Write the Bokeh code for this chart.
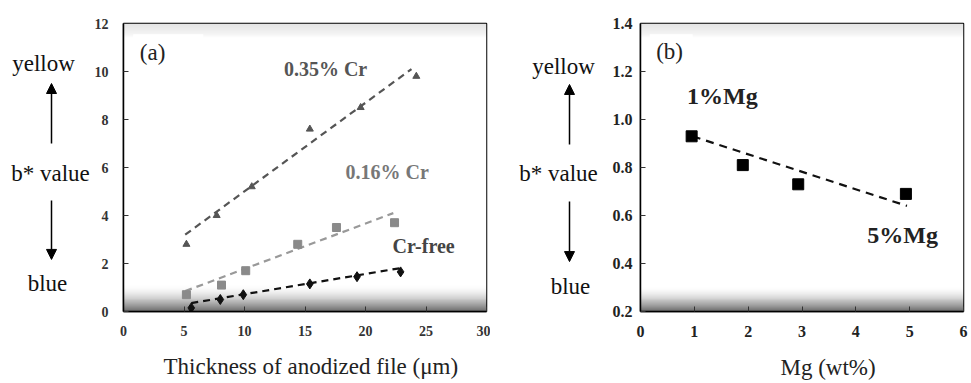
import numpy as np
from bokeh.plotting import figure
from bokeh.layouts import row
from bokeh.models import (Range1d, Label, Arrow, NormalHead, FixedTicker, BoxAnnotation,
                          CustomJSTickFormatter, Title)
from bokeh.embed import file_html
from bokeh.resources import INLINE

# ---------------- Panel (a) data ----------------
xa_ticks = [0, 5, 10, 15, 20, 25, 30]
ya_ticks = [0, 2, 4, 6, 8, 10, 12]
cr35_x = [5.2, 7.7, 10.6, 15.4, 19.6, 24.2]
cr35_y = [2.8, 4.0, 5.2, 7.6, 8.5, 9.8]
cr35_fit_x = [5.1, 23.8]
cr35_fit_y = [3.2, 10.1]
cr16_x = [5.2, 8.1, 10.1, 14.4, 17.6, 22.4]
cr16_y = [0.7, 1.1, 1.7, 2.8, 3.5, 3.7]
cr16_fit_x = [5.1, 22.3]
cr16_fit_y = [0.85, 4.1]
crfree_x = [5.6, 8.0, 9.9, 15.4, 19.3, 22.9]
crfree_y = [0.15, 0.5, 0.7, 1.15, 1.45, 1.65]
crfree_fit_x = [5.6, 22.8]
crfree_fit_y = [0.35, 1.8]

# ---------------- Panel (b) data ----------------
xb_ticks = [0, 1, 2, 3, 4, 5, 6]
yb_ticks = [0.2, 0.4, 0.6, 0.8, 1.0, 1.2, 1.4]
mg_x = [0.95, 1.9, 2.93, 4.93]
mg_y = [0.93, 0.81, 0.73, 0.69]
mg_fit_x = [0.97, 4.95]
mg_fit_y = [0.93, 0.64]

SERIF = "'Liberation Serif'"


def gradient(n=300, fb=0.09, ft=0.95):
    f = (np.arange(n) + 0.5) / n
    g = np.full(n, 255.0)
    lo = f < fb
    g[lo] = 255 - (255 - 105) * (1 - f[lo] / fb) ** 1.6
    hi = f > ft
    g[hi] = 255 - (255 - 228) * ((f[hi] - ft) / (1 - ft)) ** 0.8
    img = np.empty((n, 1), dtype=np.uint32)
    v = img.view(dtype=np.uint8).reshape((n, 1, 4))
    gi = g.astype(np.uint8)
    v[:, 0, 0] = gi
    v[:, 0, 1] = gi
    v[:, 0, 2] = gi
    v[:, 0, 3] = 255
    return img


def style(p, xt, yt, tick_color, tick_size, ystand):
    p.grid.visible = False
    p.outline_line_color = "black"
    p.outline_line_width = 1.5
    p.xaxis.ticker = FixedTicker(ticks=xt)
    p.yaxis.ticker = FixedTicker(ticks=yt)
    for ax in (p.xaxis, p.yaxis):
        ax.major_tick_in = 5
        ax.major_tick_out = 0
        ax.minor_tick_line_color = None
        ax.axis_line_color = "black"
        ax.axis_line_width = 1.5
        ax.major_tick_line_color = "#333333"
        ax.major_label_text_font = SERIF
        ax.major_label_text_font_style = "bold"
        ax.major_label_text_font_size = tick_size
        ax.major_label_text_color = tick_color
    p.xaxis.major_label_standoff = 14
    p.yaxis.major_label_standoff = ystand
    # invisible spacer label to push the title down
    p.xaxis.axis_label = " "
    p.xaxis.axis_label_text_font_size = "1px"
    p.xaxis.axis_label_standoff = 7


def add_xtitle(p, text, offset):
    t = Title(text=text, align="left", offset=offset, text_font=SERIF,
              text_font_size="23px", text_font_style="normal", text_color="#222222",
              standoff=4)
    p.add_layout(t, "below")


def side_panel(w, y_range, top, bottom, xc, xa, y_yellow, y_up0, y_up1, y_b, y_dn0, y_dn1, y_blue):
    s = figure(width=w, height=383, output_backend="svg", toolbar_location=None,
               x_range=Range1d(0, w), y_range=y_range,
               min_border_left=0, min_border_right=0, min_border_top=top, min_border_bottom=bottom,
               x_axis_location=None, y_axis_location=None)
    s.outline_line_color = None
    s.grid.visible = False
    kw = dict(text_font=SERIF, text_font_size="23px", text_color="#111111",
              text_align="center", text_baseline="middle")
    s.add_layout(Label(x=xc[0], y=y_yellow, text="yellow", **kw))
    s.add_layout(Label(x=xc[1], y=y_b, text="b* value", **kw))
    s.add_layout(Label(x=xc[2], y=y_blue, text="blue", **kw))
    s.add_layout(Arrow(end=NormalHead(size=10, fill_color="black", line_color="black"),
                       x_start=xa, y_start=y_up0, x_end=xa, y_end=y_up1, line_width=1.5))
    s.add_layout(Arrow(end=NormalHead(size=10, fill_color="black", line_color="black"),
                       x_start=xa, y_start=y_dn0, x_end=xa, y_end=y_dn1, line_width=1.5))
    return s


# ---------------- Figure (a) ----------------
ya_range = Range1d(0, 12)
sa = side_panel(90, ya_range, 23, 72, [43, 50, 47], 51, 10.33, 7.0, 9.5, 5.75, 4.62, 2.17, 1.17)
pa = figure(width=400, height=383, output_backend="svg", toolbar_location=None,
            x_range=Range1d(0, 30), y_range=ya_range,
            min_border_left=33, min_border_right=4, min_border_top=23, min_border_bottom=72)
pa.image_rgba(image=[gradient(fb=0.09, ft=0.95)], x=0, y=0, dw=30, dh=12)
style(pa, xa_ticks, ya_ticks, "#333333", "14px", 15)
add_xtitle(pa, "Thickness of anodized file (\u03bcm)", 40)
pa.add_layout(BoxAnnotation(left=0.8, right=6.6, bottom=10.75, top=11.55,
                            fill_color="white", fill_alpha=1, line_color=None))

pa.line(cr35_fit_x, cr35_fit_y, line_color="#555555", line_width=2.2, line_dash="7 5")
pa.scatter(cr35_x, cr35_y, marker="triangle", size=7, color="#555555")
pa.line(cr16_fit_x, cr16_fit_y, line_color="#999999", line_width=2.2, line_dash="7 5")
pa.scatter(cr16_x, cr16_y, marker="square", size=8, color="#8a8a8a")
pa.line(crfree_fit_x, crfree_fit_y, line_color="#111111", line_width=2.2, line_dash="7 5")
pa.scatter(crfree_x, crfree_y, marker="diamond", size=10, color="#111111")

lbl = dict(text_font=SERIF, text_font_style="bold", text_font_size="20px",
           text_align="center", text_baseline="middle")
pa.add_layout(Label(x=16.7, y=10.1, text="0.35% Cr", text_color="#555555", **lbl))
pa.add_layout(Label(x=21.8, y=5.8, text="0.16% Cr", text_color="#777777", **lbl))
pa.add_layout(Label(x=24.8, y=2.75, text="Cr-free", text_color="#444444", **lbl))
pa.add_layout(Label(x=2.4, y=10.8, text="(a)", text_font=SERIF, text_font_size="23px",
                    text_color="#222222", text_align="center", text_baseline="middle"))

# ---------------- Figure (b) ----------------
yb_range = Range1d(0.2, 1.4)
sb = side_panel(114, yb_range, 22, 71, [73, 68, 80], 79, 1.221, 0.896, 1.146, 0.775, 0.658, 0.408, 0.304)
pb = figure(width=367, height=383, output_backend="svg", toolbar_location=None,
            x_range=Range1d(0, 6), y_range=yb_range,
            min_border_left=36, min_border_right=8, min_border_top=22, min_border_bottom=71)
pb.image_rgba(image=[gradient(fb=0.085, ft=0.95)], x=0, y=0.2, dw=6, dh=1.2)
style(pb, xb_ticks, yb_ticks, "#222222", "16px", 8)
add_xtitle(pb, "Mg (wt%)", 140)
pb.yaxis.formatter = CustomJSTickFormatter(code="return tick.toFixed(1);")
pb.add_layout(BoxAnnotation(left=0.17, right=0.97, bottom=1.29, top=1.355,
                            fill_color="white", fill_alpha=1, line_color=None))

pb.line(mg_fit_x, mg_fit_y, line_color="#111111", line_width=2.2, line_dash="8 6")
pb.scatter(mg_x, mg_y, marker="square", size=11, color="#000000")

lblb = dict(text_font=SERIF, text_font_style="bold", text_font_size="24px",
            text_color="#222222", text_align="center", text_baseline="middle")
pb.add_layout(Label(x=1.52, y=1.10, text="1%Mg", **lblb))
pb.add_layout(Label(x=4.87, y=0.52, text="5%Mg", **lblb))
pb.add_layout(Label(x=0.54, y=1.283, text="(b)", text_font=SERIF, text_font_size="23px",
                    text_color="#222222", text_align="center", text_baseline="middle"))

layout = row(sa, pa, sb, pb)
open("out.html", "w").write(file_html(layout, INLINE))
